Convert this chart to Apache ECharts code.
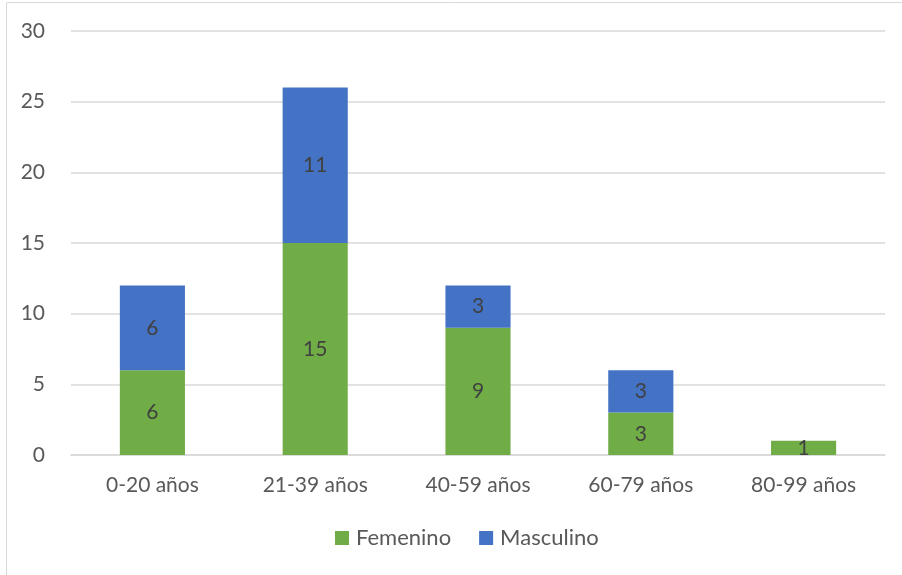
<!DOCTYPE html>
<html><head><meta charset="utf-8">
<script src="https://cdn.jsdelivr.net/npm/echarts@6/dist/echarts.min.js"></script>
<style>html,body{margin:0;padding:0;background:#fff}#c{width:902px;height:575px}</style>
</head><body><div id="c"></div>
<script>
const categories = ['0-20 años', '21-39 años', '40-59 años', '60-79 años', '80-99 años'];
const femenino = [6, 15, 9, 3, 1];
const masculino = [6, 11, 3, 3, 0];
const yTicks = [0, 5, 10, 15, 20, 25, 30];

const chart = echarts.init(document.getElementById('c'), null, {renderer: 'canvas'});
const font = 'Lato, "Open Sans", sans-serif';
const fs = 21;
const lbl = {
  show: true, position: 'inside', color: '#404040', fontSize: fs, fontFamily: font,
  formatter: p => (p.value > 0 ? p.value : '')
};
chart.setOption({
  animation: false,
  graphic: [{type: 'rect', shape: {x: 6.5, y: 2.5, width: 920, height: 600},
    style: {fill: 'none', stroke: '#D9D9D9', lineWidth: 1}, silent: true}],
  grid: {left: 71, right: 17, top: 31, bottom: 120},
  legend: {
    bottom: 21, left: 330, itemWidth: 14, itemHeight: 14, itemGap: 28,
    icon: 'rect', textStyle: {color: '#595959', fontSize: 22, fontFamily: font, padding: [0, 0, 0, 2]},
    data: ['Femenino', 'Masculino']
  },
  xAxis: {
    type: 'category', data: categories,
    axisLine: {lineStyle: {color: '#D9D9D9', width: 1.5}},
    axisTick: {show: false},
    axisLabel: {color: '#595959', fontSize: fs, fontFamily: font, margin: 20}
  },
  yAxis: {
    type: 'value', min: yTicks[0], max: yTicks[yTicks.length - 1], interval: 5,
    axisLine: {show: false}, axisTick: {show: false},
    splitLine: {lineStyle: {color: '#D9D9D9', width: 1.5}},
    axisLabel: {color: '#595959', fontSize: fs, fontFamily: font, margin: 26}
  },
  series: [
    {name: 'Femenino', type: 'bar', stack: 's', data: femenino, barWidth: '40%',
     itemStyle: {color: '#70AD47'}, label: lbl},
    {name: 'Masculino', type: 'bar', stack: 's', data: masculino, barWidth: '40%',
     itemStyle: {color: '#4472C4'}, label: lbl}
  ]
});
</script></body></html>
